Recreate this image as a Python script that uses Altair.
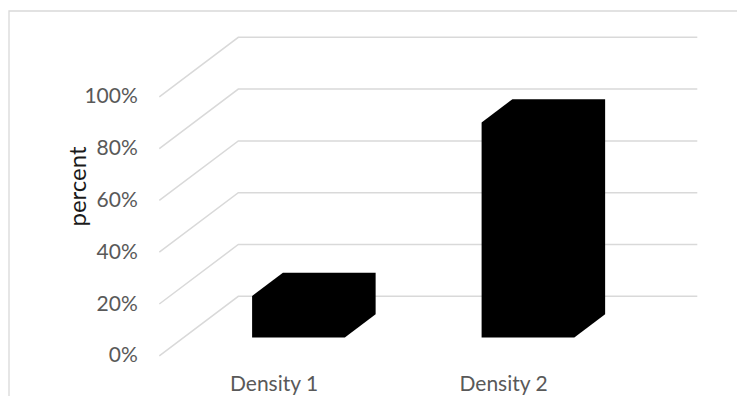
import altair as alt
import pandas as pd

# ---- data -------------------------------------------------------------
categories = ["Density 1", "Density 2"]
values = [0.16, 0.83]
tick_values = [0.0, 0.2, 0.4, 0.6, 0.8, 1.0]

# ---- oblique 3-D box geometry (pixels) ---------------------------------
SLOT_PX = 229.5      # width of one category slot along the front edge
PCT_PX = 259.0       # pixels for 100 %
DEPTH_X_PX = 79.0    # horizontal shift from front edge to back wall
DEPTH_Y_PX = 59.5    # vertical shift from front edge to back wall
LEFT, TOP = 159.3, 37.3
FULL_W, FULL_H = 737, 396

dX = DEPTH_X_PX / SLOT_PX
dY = DEPTH_Y_PX / PCT_PX
n = len(categories)
x_max = n + dX
y_max = 1 + dY
W = x_max * SLOT_PX
H = y_max * PCT_PX

BAR_W = 0.404   # bar width as fraction of a slot
BAR_D0 = 0.309  # depth where the bar's front face sits (fraction of floor depth)
BAR_D = 0.39    # bar depth (fraction of floor depth)

# gridlines: diagonal on the side wall, then horizontal on the back wall
grid_rows = []
for v in tick_values:
    grid_rows += [
        {"tick": v, "k": 0, "x": 0.0, "y": v},
        {"tick": v, "k": 1, "x": dX, "y": v + dY},
        {"tick": v, "k": 2, "x": n + dX, "y": v + dY},
    ]
grid = pd.DataFrame(grid_rows)

# each 3-D bar is drawn as one hexagonal area (front + top + side faces)
bar_rows = []
for i, (cat, val) in enumerate(zip(categories, values)):
    c = i + 0.5
    xl = c - BAR_W / 2 + BAR_D0 * dX
    xr = c + BAR_W / 2 + BAR_D0 * dX
    sx, sy = BAR_D * dX, BAR_D * dY
    y0 = BAR_D0 * dY
    yt = val + y0
    pts = [
        (xl, yt, y0),
        (xl + sx, yt + sy, y0),
        (xr, yt + sy, y0),
        (xr + sx, yt + sy, y0 + sy),
    ]
    for x, top, bot in pts:
        bar_rows.append({"cat": cat, "value": val, "x": x, "y": top, "bottom": bot})
bars = pd.DataFrame(bar_rows)

labels = pd.DataFrame({"cat": categories, "x": [i + 0.5 for i in range(n)]})

xs = alt.Scale(domain=[0, x_max], nice=False, zero=False)
ys = alt.Scale(domain=[0, y_max], nice=False, zero=False)

FONT = "Lato"

y_axis = alt.Axis(
    values=tick_values,
    format=".0%",
    grid=False,
    domain=False,
    ticks=False,
    labelFont=FONT,
    labelFontSize=21,
    labelColor="#595959",
    labelPadding=22,
    labelBaseline="middle",
    title="percent",
    titleFont=FONT,
    titleFontSize=24,
    titleFontWeight="normal",
    titleColor="#1a1a1a",
    titleX=85 - LEFT,
    titleY=186 - TOP,
    titleAngle=270,
    titleAlign="center",
    titleBaseline="alphabetic",
)

grid_layer = alt.Chart(grid).mark_line(color="#d9d9d9", strokeWidth=1.5).encode(
    x=alt.X("x:Q", scale=xs, axis=None),
    y=alt.Y("y:Q", scale=ys, axis=y_axis),
    detail="tick:N",
    order="k:Q",
)

bar_layer = alt.Chart(bars).mark_area(color="black", interpolate="linear").encode(
    x=alt.X("x:Q", scale=xs, axis=None),
    y=alt.Y("y:Q", scale=ys, axis=y_axis, stack=False),
    y2="bottom:Q",
    detail="cat:N",
)

label_layer = alt.Chart(labels).mark_text(
    font=FONT, fontSize=21, color="#595959", baseline="alphabetic", align="center"
).encode(
    x=alt.X("x:Q", scale=xs, axis=None),
    y=alt.value(391 - TOP),
    text="cat:N",
)

frame = alt.Chart(pd.DataFrame({"f": [0]})).mark_rect(
    fillOpacity=0, stroke="#d9d9d9", strokeWidth=1.3
).encode(
    x=alt.value(9 - LEFT),
    x2=alt.value(W + 100),
    y=alt.value(11 - TOP),
    y2=alt.value(H + 100),
)

chart = (
    alt.layer(frame, grid_layer, bar_layer, label_layer)
    .properties(
        width=W,
        height=H,
        autosize=alt.AutoSizeParams(type="none"),
        padding={"left": LEFT, "top": TOP, "right": FULL_W - LEFT - W, "bottom": FULL_H - TOP - H},
        background="white",
    )
    .configure_view(stroke=None)
)

chart.save("out.html", embed_options={"renderer": "svg", "actions": False})
